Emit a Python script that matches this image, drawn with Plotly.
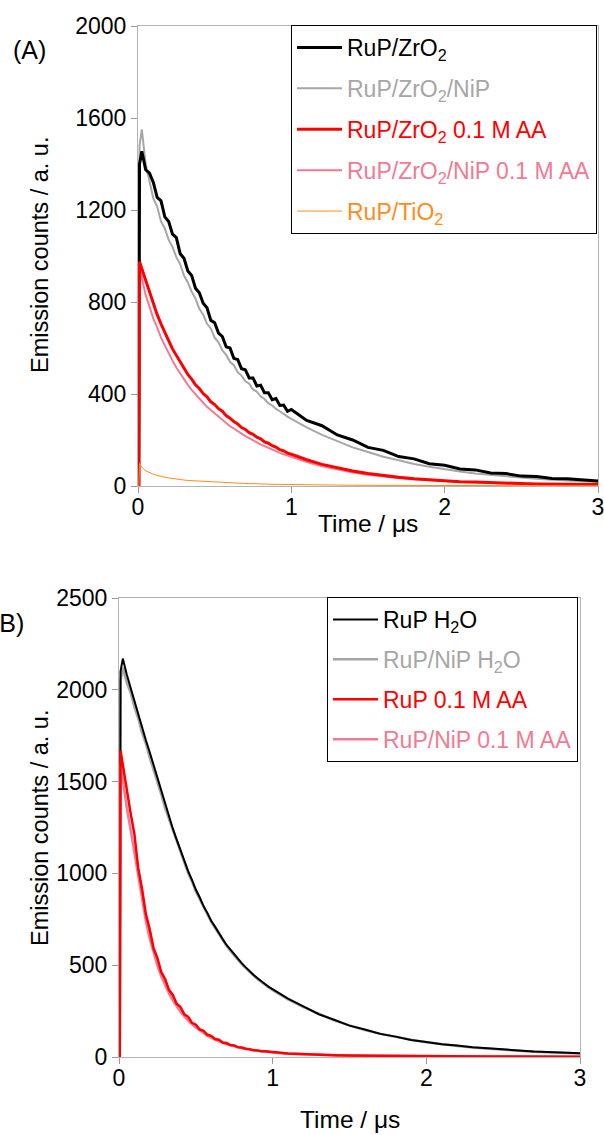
import plotly.graph_objects as go

# ---------------- Panel A data (time in microseconds) ----------------
time_a = [0, 0.005, 0.01,
          0.025, 0.05, 0.075, 0.1, 0.125, 0.15, 0.175, 0.2, 0.225, 0.25, 0.275, 0.3,
          0.325, 0.35, 0.375, 0.4, 0.425, 0.45, 0.475, 0.5, 0.525, 0.55, 0.575, 0.6,
          0.625, 0.65, 0.675, 0.7, 0.725, 0.75, 0.775, 0.8, 0.825, 0.85, 0.875, 0.9,
          0.925, 0.95, 0.975, 1.0,
          1.1, 1.2, 1.3, 1.4, 1.5, 1.6, 1.7, 1.8, 1.9, 2.0,
          2.1, 2.2, 2.3, 2.4, 2.5, 2.6, 2.7, 2.8, 2.9, 3.0]

rup_zro2 = [0, 0, 1400,
            1455, 1375, 1360, 1320, 1255, 1240, 1170, 1150, 1095, 1080, 1010, 990,
            935, 915, 860, 840, 795, 775, 720, 710, 665, 650, 605, 600,
            555, 550, 510, 505, 470, 470, 435, 438, 405, 405, 375, 380,
            350, 352, 325, 333,
            285, 262, 222, 200, 168, 155, 128, 118, 97, 90,
            74, 70, 57, 54, 43, 41, 33, 31, 25, 22]

rup_zro2_nip = [0, 0, 1480,
                1550, 1400, 1330, 1250, 1215, 1150, 1120, 1070, 1040, 995, 965, 915,
                885, 845, 815, 770, 745, 705, 685, 645, 625, 590, 570, 540,
                525, 495, 480, 455, 445, 420, 410, 390, 378, 360, 350, 335,
                325, 312, 302, 292,
                255, 222, 196, 168, 148, 127, 112, 96, 84, 72,
                63, 54, 48, 41, 36, 31, 27, 23, 20, 17]

rup_zro2_aa = [0, 0, 975,
               945, 885, 835, 790, 745, 705, 665, 632, 596, 568, 536, 512,
               485, 465, 440, 424, 402, 388, 366, 354, 336, 325, 306, 295,
               280, 270, 254, 246, 232, 225, 212, 205, 192, 186, 175, 169,
               158, 153, 143, 138,
               114, 94, 78, 65, 54, 45, 38, 32, 27, 23,
               19, 17, 14, 12, 11, 9, 8, 7, 7, 6]

rup_zro2_nip_aa = [0, 0, 950,
                   905, 830, 780, 728, 690, 645, 612, 575, 545, 515, 490, 462,
                   440, 418, 398, 378, 362, 344, 330, 314, 300, 286, 274, 260,
                   250, 238, 228, 217, 208, 198, 190, 181, 173, 165, 158, 151,
                   144, 138, 132, 126,
                   104, 86, 71, 59, 49, 41, 34, 29, 24, 20,
                   17, 15, 12, 11, 9, 8, 7, 6, 6, 5]

rup_tio2 = [0, 0, 98,
            82, 66, 58, 51, 46, 41, 38, 35, 32, 30, 28, 26,
            24, 23, 21, 20, 19, 18, 17, 16, 15, 14, 14, 13,
            12, 12, 11, 11, 10, 10, 9, 9, 9, 8, 8, 7,
            7, 7, 6, 6,
            5, 4, 4, 3, 3, 3, 2, 2, 2, 2,
            2, 1, 1, 1, 1, 1, 1, 1, 1, 1]

# ---------------- Panel B data ----------------
time_b = list(time_a)

rup_h2o = [0, 0, 2100,
           2170, 2085, 2010, 1945, 1860, 1800, 1725, 1660, 1590, 1520, 1445, 1375,
           1310, 1245, 1185, 1125, 1070, 1012, 965, 912, 870, 822, 785, 742,
           710, 672, 642, 610, 585, 556, 533, 510, 488, 466, 448, 430,
           412, 398, 382, 370,
           318, 276, 233, 203, 171, 150, 126, 111, 93, 82,
           70, 63, 53, 48, 40, 36, 30, 27, 23, 20]

rup_nip_h2o = [0, 0, 2050,
               2120, 2040, 1985, 1905, 1845, 1765, 1705, 1630, 1565, 1495, 1430, 1355,
               1295, 1228, 1172, 1108, 1058, 1000, 955, 902, 860, 815, 776, 736,
               702, 666, 636, 604, 578, 551, 527, 504, 482, 462, 443, 425,
               408, 392, 378, 364,
               314, 271, 234, 200, 172, 147, 127, 109, 94, 80,
               69, 60, 52, 45, 39, 34, 29, 26, 22, 19]

rup_aa = [0, 0, 1670,
          1590, 1440, 1330, 1215, 1030, 915, 778, 695, 592, 538, 462, 425,
          366, 338, 290, 272, 232, 219, 186, 176, 150, 143, 121, 115,
          98, 94, 79, 76, 65, 63, 53, 52, 45, 43, 37, 36,
          31, 31, 27, 27,
          19, 15, 12, 10, 8, 7, 6, 5, 5, 4,
          4, 4, 3, 3, 3, 3, 3, 3, 2, 2]

rup_nip_aa = [0, 0, 1600,
              1500, 1360, 1240, 1110, 975, 850, 740, 645, 565, 498, 440, 390,
              347, 309, 276, 247, 221, 198, 178, 160, 144, 129, 116, 104,
              94, 85, 77, 69, 63, 57, 52, 47, 43, 39, 36, 33,
              30, 28, 26, 24,
              18, 14, 11, 9, 7, 6, 5, 5, 4, 4,
              3, 3, 3, 3, 2, 2, 2, 2, 2, 2]

# tick values
ticks_x = [0, 1, 2, 3]
ticks_ya = [0, 400, 800, 1200, 1600, 2000]
ticks_yb = [0, 500, 1000, 1500, 2000, 2500]

FONT = "Liberation Sans, Arial, sans-serif"
BLACK = "#000000"
GRAY = "#a6a6a6"
RED = "#ff0000"
PINK = "#f27a93"
ORANGE = "#ff8c1a"


def lbl(text, color):
    return f'<span style="color:{color}">{text}</span>'


fig = go.Figure()

# Panel A traces (draw order: gray under black, pink under red)
fig.add_trace(go.Scatter(x=time_a, y=rup_zro2_nip, mode="lines", xaxis="x", yaxis="y",
                         line=dict(color=GRAY, width=2), legend="legend", legendrank=2,
                         legendgroup="a2", name=lbl("RuP/ZrO<sub>2</sub>/NiP", GRAY)))
fig.add_trace(go.Scatter(x=time_a, y=rup_zro2, mode="lines", xaxis="x", yaxis="y",
                         line=dict(color=BLACK, width=3), legend="legend", legendrank=1,
                         legendgroup="a1", name=lbl("RuP/ZrO<sub>2</sub>", BLACK)))
fig.add_trace(go.Scatter(x=time_a, y=rup_zro2_nip_aa, mode="lines", xaxis="x", yaxis="y",
                         line=dict(color=PINK, width=2), legend="legend", legendrank=4,
                         legendgroup="a4", name=lbl("RuP/ZrO<sub>2</sub>/NiP 0.1 M AA", PINK)))
fig.add_trace(go.Scatter(x=time_a, y=rup_zro2_aa, mode="lines", xaxis="x", yaxis="y",
                         line=dict(color=RED, width=3), legend="legend", legendrank=3,
                         legendgroup="a3", name=lbl("RuP/ZrO<sub>2</sub> 0.1 M AA", RED)))
fig.add_trace(go.Scatter(x=time_a, y=rup_tio2, mode="lines", xaxis="x", yaxis="y",
                         line=dict(color=ORANGE, width=1), legend="legend", legendrank=5,
                         legendgroup="a5", name=lbl("RuP/TiO<sub>2</sub>", ORANGE)))

# Panel B traces
fig.add_trace(go.Scatter(x=time_b, y=rup_nip_h2o, mode="lines", xaxis="x2", yaxis="y2",
                         line=dict(color=GRAY, width=2.5), legend="legend2", legendrank=2,
                         legendgroup="b2", name=lbl("RuP/NiP H<sub>2</sub>O", GRAY)))
fig.add_trace(go.Scatter(x=time_b, y=rup_h2o, mode="lines", xaxis="x2", yaxis="y2",
                         line=dict(color=BLACK, width=2), legend="legend2", legendrank=1,
                         legendgroup="b1", name=lbl("RuP H<sub>2</sub>O", BLACK)))
fig.add_trace(go.Scatter(x=time_b, y=rup_nip_aa, mode="lines", xaxis="x2", yaxis="y2",
                         line=dict(color=PINK, width=2.5), legend="legend2", legendrank=4,
                         legendgroup="b4", name=lbl("RuP/NiP 0.1 M AA", PINK)))
fig.add_trace(go.Scatter(x=time_b, y=rup_aa, mode="lines", xaxis="x2", yaxis="y2",
                         line=dict(color=RED, width=2.5), legend="legend2", legendrank=3,
                         legendgroup="b3", name=lbl("RuP 0.1 M AA", RED)))

W, H = 604, 1135


def px_x(p):
    return p / W


def px_y(p):
    return 1 - p / H


axis_common = dict(showline=True, linecolor="#b4b4b4", linewidth=1, mirror=True,
                   showgrid=False, zeroline=False, ticks="outside", ticklen=6,
                   tickcolor="#9a9a9a", tickwidth=1, automargin=False,
                   ticklabeloverflow="allow",
                   tickfont=dict(family=FONT, size=23, color="#000000"))

legend_common = dict(xanchor="right", yanchor="top", bgcolor="white",
                     bordercolor="#000000", borderwidth=1,
                     font=dict(family=FONT, size=23), traceorder="grouped",
                     itemwidth=45)

fig.update_layout(
    template="none",
    width=W, height=H,
    autosize=False,
    margin=dict(l=0, r=0, t=0, b=0, pad=0, autoexpand=False),
    paper_bgcolor="white", plot_bgcolor="white",
    font=dict(family=FONT, color="#000000"),
    xaxis=dict(domain=[px_x(138), px_x(598)], anchor="y", range=[0, 3],
               tickvals=ticks_x, ticklabelstandoff=-6, **axis_common),
    yaxis=dict(domain=[px_y(486), px_y(26)], anchor="x", range=[0, 2000],
               tickvals=ticks_ya, **axis_common),
    xaxis2=dict(domain=[px_x(119), px_x(580)], anchor="y2", range=[0, 3],
                tickvals=ticks_x, ticklabelstandoff=-6, **axis_common),
    yaxis2=dict(domain=[px_y(1057), px_y(598)], anchor="x2", range=[0, 2500],
                tickvals=ticks_yb, **axis_common),
    legend=dict(x=px_x(597), y=px_y(25), tracegroupgap=8, **legend_common),
    legend2=dict(x=px_x(578), y=px_y(597), tracegroupgap=7, **legend_common),
    showlegend=True,
)

annotations = [
    dict(text="(A)", x=px_x(30), y=px_y(50), xref="paper", yref="paper",
         showarrow=False, font=dict(family=FONT, size=25), xanchor="center", yanchor="middle"),
    dict(text="(B)", x=px_x(26), y=px_y(623), xref="paper", yref="paper",
         showarrow=False, font=dict(family=FONT, size=25), xanchor="right", yanchor="middle"),
    dict(text="Emission counts / a. u.", x=px_x(40), y=px_y(255), xref="paper", yref="paper",
         showarrow=False, textangle=-90, font=dict(family=FONT, size=23.5),
         xanchor="center", yanchor="middle"),
    dict(text="Emission counts / a. u.", x=px_x(40), y=px_y(828), xref="paper", yref="paper",
         showarrow=False, textangle=-90, font=dict(family=FONT, size=23.5),
         xanchor="center", yanchor="middle"),
    dict(text="Time / \u03bcs", x=px_x(368), y=px_y(524), xref="paper", yref="paper",
         showarrow=False, font=dict(family=FONT, size=24.5), xanchor="center", yanchor="middle"),
    dict(text="Time / \u03bcs", x=px_x(350), y=px_y(1119), xref="paper", yref="paper",
         showarrow=False, font=dict(family=FONT, size=24.5), xanchor="center", yanchor="middle"),
]
fig.update_layout(annotations=annotations)

fig.write_html("out.html", config={"displayModeBar": False},
               post_script="document.body.style.margin='0';document.body.style.padding='0';"
                           "document.documentElement.style.overflow='hidden';")
